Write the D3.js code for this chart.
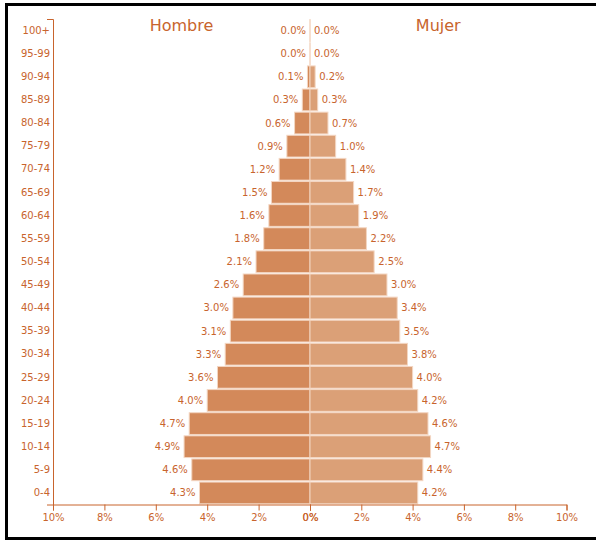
<!DOCTYPE html>
<html>
<head>
<meta charset="utf-8">
<script src="https://cdn.jsdelivr.net/npm/d3@7/dist/d3.min.js"></script>
<style>
  html, body { margin: 0; padding: 0; background: #fff; }
  svg { display: block; }
  text { font-family: "DejaVu Sans", sans-serif; }
</style>
</head>
<body>
<script>
const ageGroups = ["100+","95-99","90-94","85-89","80-84","75-79","70-74","65-69","60-64","55-59","50-54","45-49","40-44","35-39","30-34","25-29","20-24","15-19","10-14","5-9","0-4"];
const hombre = [0.0,0.0,0.1,0.3,0.6,0.9,1.2,1.5,1.6,1.8,2.1,2.6,3.0,3.1,3.3,3.6,4.0,4.7,4.9,4.6,4.3];
const mujer  = [0.0,0.0,0.2,0.3,0.7,1.0,1.4,1.7,1.9,2.2,2.5,3.0,3.4,3.5,3.8,4.0,4.2,4.6,4.7,4.4,4.2];
const xTicks = [0,2,4,6,8,10];
const titles = ["Hombre","Mujer"];

const W = 596, H = 540;
const color = "#c8642d";
const leftFill = "#d3895a", rightFill = "#dba077", barStroke = "#f3d6c2";

const svg = d3.select("body").append("svg").attr("width", W).attr("height", H);

// frame
svg.append("rect").attr("x", 6.5).attr("y", 4.5).attr("width", 800).attr("height", 534)
  .attr("fill", "none").attr("stroke", "#000").attr("stroke-width", 3);

const x0 = 53, xc = 310, x1 = 566.5, yTop = 19, yBot = 504.5;

const y = d3.scaleBand().domain(ageGroups).range([yTop, yBot]).paddingInner(0.06).paddingOuter(0.03);
const xL = d3.scaleLinear().domain([10, 0]).range([x0, xc]);
const xR = d3.scaleLinear().domain([0, 10]).range([xc, x1]);

const rows = ageGroups.map((g, i) => ({g, h: hombre[i], m: mujer[i]}));

// bars (a tiny minimum width keeps the stroke of zero-value bars visible)
svg.append("g").selectAll("rect").data(rows).join("rect")
  .attr("x", d => Math.min(xL(d.h), xc - 0.01)).attr("y", d => y(d.g))
  .attr("width", d => Math.max(xc - xL(d.h), 0.01)).attr("height", y.bandwidth())
  .attr("fill", leftFill).attr("stroke", barStroke).attr("stroke-width", 1);
svg.append("g").selectAll("rect").data(rows).join("rect")
  .attr("x", xc).attr("y", d => y(d.g))
  .attr("width", d => Math.max(xR(d.m) - xc, 0.01)).attr("height", y.bandwidth())
  .attr("fill", rightFill).attr("stroke", barStroke).attr("stroke-width", 1);

// value labels
const fmt = v => v.toFixed(1) + "%";
svg.append("g").selectAll("text").data(rows).join("text")
  .attr("x", d => xL(d.h) - 4).attr("y", d => y(d.g) + y.bandwidth() / 2)
  .attr("dy", "0.35em").attr("text-anchor", "end")
  .attr("font-size", 10).attr("fill", color).text(d => fmt(d.h));
svg.append("g").selectAll("text").data(rows).join("text")
  .attr("x", d => xR(d.m) + 4).attr("y", d => y(d.g) + y.bandwidth() / 2)
  .attr("dy", "0.35em").attr("text-anchor", "start")
  .attr("font-size", 10).attr("fill", color).text(d => fmt(d.m));

// axes
function styleAxis(g) {
  g.selectAll("path, line").attr("stroke", color);
  g.selectAll("text").attr("fill", color).attr("font-size", 10).attr("font-family", "DejaVu Sans, sans-serif");
}
svg.append("g").attr("transform", `translate(${x0},0)`)
  .call(d3.axisLeft(y).tickSize(0).tickSizeOuter(6).tickPadding(3))
  .call(styleAxis);
svg.append("g").attr("transform", `translate(0,${yBot})`)
  .call(d3.axisBottom(xL).tickValues(xTicks).tickFormat(d => d + "%"))
  .call(styleAxis);
svg.append("g").attr("transform", `translate(0,${yBot})`)
  .call(d3.axisBottom(xR).tickValues(xTicks).tickFormat(d => d + "%"))
  .call(styleAxis);

// titles
svg.append("text").attr("x", (x0 + xc) / 2).attr("y", 31).attr("text-anchor", "middle")
  .attr("font-size", 16).attr("fill", color).text(titles[0]);
svg.append("text").attr("x", (xc + x1) / 2).attr("y", 31).attr("text-anchor", "middle")
  .attr("font-size", 16).attr("fill", color).text(titles[1]);
</script>
</body>
</html>
